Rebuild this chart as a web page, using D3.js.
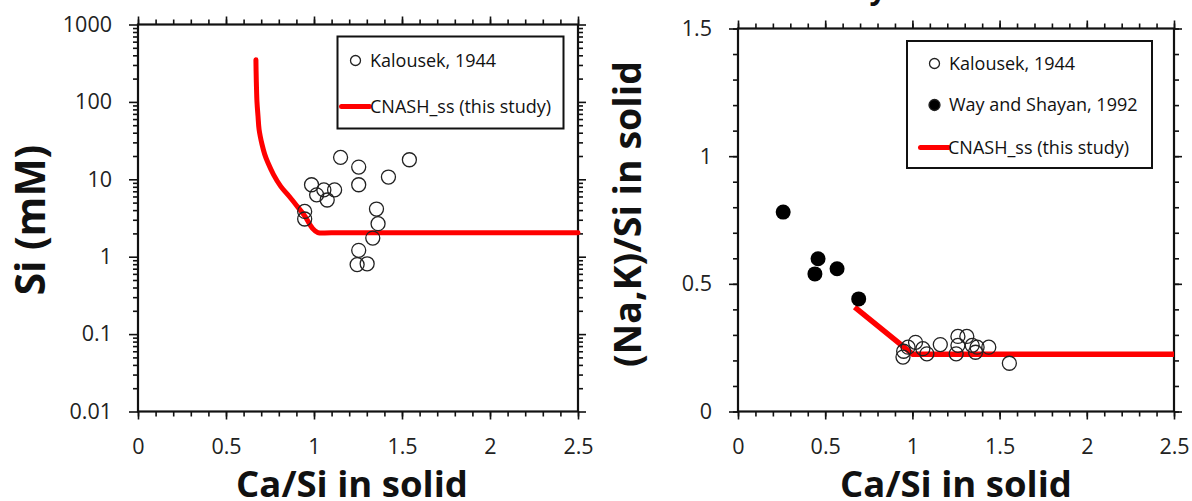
<!DOCTYPE html>
<html>
<head>
<meta charset="utf-8">
<script src="https://cdn.jsdelivr.net/npm/d3@7"></script>
<style>
  body { margin: 0; background: #fff; }
  svg { display: block; font-family: "Open Sans", sans-serif; }
</style>
</head>
<body>
<div id="chart"></div>
<script>
// Left panel: Si (mM) vs Ca/Si, Kalousek 1944
const kalSiX = [1.151, 1.254, 1.542, 1.423, 1.254, 0.986, 1.015, 1.056, 1.117, 1.075, 0.947, 0.947, 1.355, 1.364, 1.334, 1.254, 1.245, 1.302];
const kalSiY = [19.2, 14.4, 17.9, 10.7, 8.5, 8.5, 6.3, 7.3, 7.3, 5.4, 3.85, 3.07, 4.13, 2.67, 1.74, 1.21, 0.79, 0.81];
// model curve CNASH_ss
const modelSiX = [0.67, 0.671, 0.673, 0.676, 0.682, 0.688, 0.705, 0.72, 0.739, 0.77, 0.811, 0.86, 0.905, 0.95, 0.99, 1.022, 1.1, 2.5];
const modelSiY = [350, 250, 160, 100, 65, 44, 28, 21, 16.2, 11.5, 8.1, 6.0, 4.47, 3.3, 2.35, 2.05, 2.04, 2.04];

// Right panel: (Na,K)/Si vs Ca/Si
const kalNaX = [0.946, 0.950, 0.975, 1.018, 1.060, 1.083, 1.160, 1.261, 1.312, 1.261, 1.251, 1.343, 1.371, 1.362, 1.438, 1.556];
const kalNaY = [0.213, 0.236, 0.252, 0.271, 0.246, 0.226, 0.262, 0.294, 0.294, 0.259, 0.226, 0.259, 0.252, 0.232, 0.252, 0.189];
const wayX = [0.259, 0.459, 0.441, 0.568, 0.692];
const wayY = [0.781, 0.598, 0.539, 0.559, 0.441];
const modelNaX = [0.669, 1.003, 2.5];
const modelNaY = [0.409, 0.224, 0.224];

const xTicks = [0, 0.5, 1, 1.5, 2, 2.5];
const xMinor = d3.range(0, 2.501, 0.1);
const logTicks = [0.01, 0.1, 1, 10, 100, 1000];
const linTicks = [0, 0.5, 1, 1.5];
const linMinor = d3.range(0, 1.501, 0.1);

const width = 1192, height = 501;
const svg = d3.select("#chart").append("svg")
  .attr("width", width).attr("height", height);

const fmt = (d) => String(+d.toFixed(2));

function frame(x, y, yMajor, yMinor, yFmt) {
  const g = svg.append("g");
  const [x0, x1] = x.range();
  const [yb, yt] = y.range();

  const ax = (axis, tr) => g.append("g").attr("transform", tr).call(axis)
    .call(s => s.select(".domain").remove())
    .call(s => s.selectAll("line").attr("stroke", "#111").attr("stroke-width", 1.6));

  // minor ticks
  ax(d3.axisBottom(x).tickValues(xMinor).tickSize(5).tickFormat(""), `translate(0,${yb})`);
  ax(d3.axisTop(x).tickValues(xMinor).tickSize(5).tickFormat(""), `translate(0,${yt})`);
  ax(d3.axisLeft(y).tickValues(yMinor).tickSize(5).tickFormat(""), `translate(${x0},0)`);
  ax(d3.axisRight(y).tickValues(yMinor).tickSize(5).tickFormat(""), `translate(${x1},0)`);
  // major ticks
  const bx = ax(d3.axisBottom(x).tickValues(xTicks).tickSize(8).tickPadding(19).tickFormat(fmt), `translate(0,${yb})`);
  ax(d3.axisTop(x).tickValues(xTicks).tickSize(8).tickFormat(""), `translate(0,${yt})`);
  const ly = ax(d3.axisLeft(y).tickValues(yMajor).tickSize(9).tickPadding(17).tickFormat(yFmt), `translate(${x0},0)`);
  ax(d3.axisRight(y).tickValues(yMajor).tickSize(8).tickFormat(""), `translate(${x1},0)`);
  [bx, ly].forEach(s => s.selectAll("text")
    .style("font-size", "21.5px").style("font-family", "Open Sans, sans-serif").attr("fill", "#222"));

  g.append("rect")
    .attr("x", x0).attr("y", yt).attr("width", x1 - x0).attr("height", yb - yt)
    .attr("fill", "none").attr("stroke", "#111").attr("stroke-width", 2.2);
  return g;
}

function legend(x0, y0, w, h, items) {
  const g = svg.append("g");
  g.append("rect").attr("x", x0).attr("y", y0).attr("width", w).attr("height", h)
    .attr("fill", "#fff").attr("stroke", "#111").attr("stroke-width", 2);
  items.forEach((it) => {
    const cy = it.y;
    if (it.type === "line") {
      g.append("line").attr("x1", it.mx - 14).attr("x2", it.mx + 14).attr("y1", cy).attr("y2", cy)
        .attr("stroke", "#ff0000").attr("stroke-width", 5).attr("stroke-linecap", "round");
    } else {
      g.append("circle").attr("cx", it.mx).attr("cy", cy).attr("r", it.type === "filled" ? 5.5 : 5)
        .attr("fill", it.type === "filled" ? "#000" : "#fff").attr("stroke", "#222").attr("stroke-width", 1.3);
    }
    g.append("text").attr("x", it.tx).attr("y", cy).attr("dy", "0.35em")
      .style("font-size", "18px").attr("fill", "#111").text(it.label);
  });
}

// ---------- left panel ----------
const xL = d3.scaleLinear().domain([0, 2.5]).range([138, 578]);
const yL = d3.scaleLog().domain([0.01, 1000]).range([411.5, 24.5]);
const logMinor = [];
logTicks.slice(0, -1).forEach(t => { for (let m = 2; m <= 9; m++) logMinor.push(t * m); });
frame(xL, yL, logTicks, logMinor, (d) => String(d));

svg.append("path").datum(d3.zip(modelSiX, modelSiY))
  .attr("d", d3.line().x(d => xL(d[0])).y(d => yL(d[1])).curve(d3.curveCatmullRom.alpha(0.5)))
  .attr("fill", "none").attr("stroke", "#ff0000").attr("stroke-width", 5).attr("stroke-linejoin", "round").attr("stroke-linecap", "round");

svg.append("g").selectAll("circle").data(d3.zip(kalSiX, kalSiY)).enter()
  .append("circle")
  .attr("cx", d => xL(d[0])).attr("cy", d => yL(d[1])).attr("r", 7)
  .attr("fill", "none").attr("stroke", "#222").attr("stroke-width", 1.3);

legend(337.5, 36.5, 226, 92, [
  { type: "open", mx: 355.5, tx: 370, y: 60.5, label: "Kalousek, 1944" },
  { type: "line", mx: 355.5, tx: 370, y: 106.5, label: "CNASH_ss (this study)" }
]);

// ---------- right panel ----------
const xR = d3.scaleLinear().domain([0, 2.5]).range([738, 1174]);
const yR = d3.scaleLinear().domain([0, 1.5]).range([411.5, 28.5]);
frame(xR, yR, linTicks, linMinor, fmt);

svg.append("path").datum(d3.zip(modelNaX, modelNaY))
  .attr("d", d3.line().x(d => xR(d[0])).y(d => yR(d[1])))
  .attr("fill", "none").attr("stroke", "#ff0000").attr("stroke-width", 5.5).attr("stroke-linejoin", "round");

svg.append("g").selectAll("circle").data(d3.zip(wayX, wayY)).enter()
  .append("circle")
  .attr("cx", d => xR(d[0])).attr("cy", d => yR(d[1])).attr("r", 7.5)
  .attr("fill", "#000");

svg.append("g").selectAll("circle").data(d3.zip(kalNaX, kalNaY)).enter()
  .append("circle")
  .attr("cx", d => xR(d[0])).attr("cy", d => yR(d[1])).attr("r", 7)
  .attr("fill", "none").attr("stroke", "#222").attr("stroke-width", 1.3);

legend(907, 41, 245, 127, [
  { type: "open", mx: 934.5, tx: 949, y: 63.5, label: "Kalousek, 1944" },
  { type: "filled", mx: 934.5, tx: 949, y: 105, label: "Way and Shayan, 1992" },
  { type: "line", mx: 934.5, tx: 948, y: 147.5, label: "CNASH_ss (this study)" }
]);

// ---------- axis titles ----------
const title = (x, y, rot, txt, size) => svg.append("text")
  .attr("transform", `translate(${x},${y}) rotate(${rot})`)
  .attr("text-anchor", "middle")
  .style("font-size", size + "px").style("font-weight", "bold").attr("fill", "#111")
  .text(txt);

title(352, 497, 0, "Ca/Si in solid", 36.5);
title(956, 497, 0, "Ca/Si in solid", 36.5);
title(45, 220, -90, "Si (mM)", 40.5);
title(641, 214, -90, "(Na,K)/Si in solid", 37.5);
// cropped chart title remnant at the top edge
svg.append("text").attr("x", 878).attr("y", -1).attr("text-anchor", "middle")
  .style("font-size", "30px").style("font-weight", "bold").attr("fill", "#111").text("y");
</script>
</body>
</html>
